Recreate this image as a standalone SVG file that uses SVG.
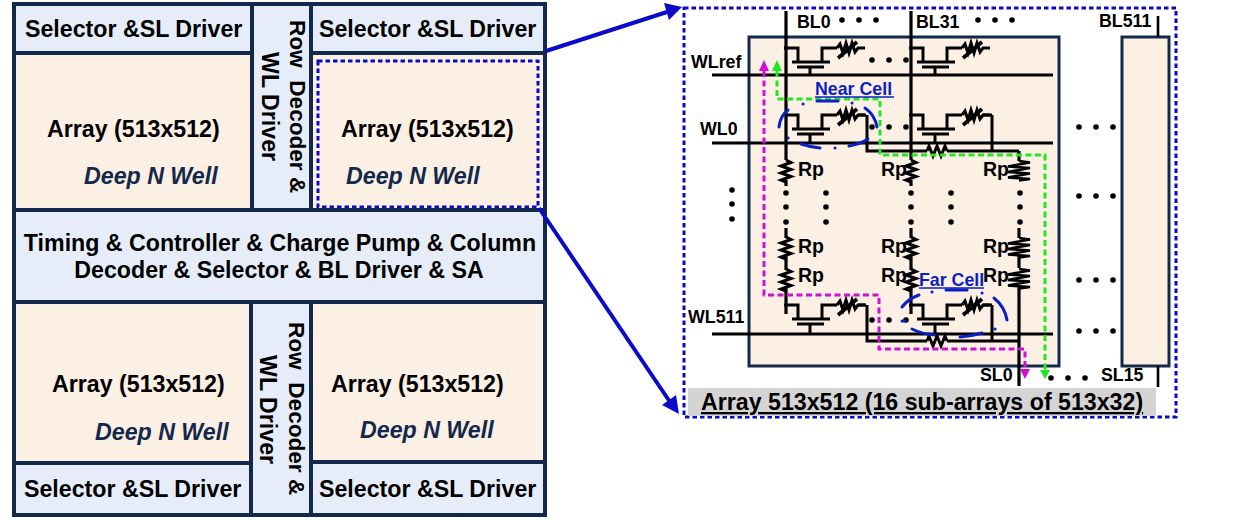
<svg xmlns="http://www.w3.org/2000/svg" xmlns:xlink="http://www.w3.org/1999/xlink" width="1248" height="523" viewBox="0 0 1248 523">
<style>
text{font-family:"Liberation Sans",Arial,sans-serif;font-weight:bold;fill:#000}
.b{fill:#e6edf8;stroke:#13294b;stroke-width:4}
.a{fill:#fcefe4;stroke:#13294b;stroke-width:4}
.m{font-size:23.200px}
.o{font-size:22.600px}
.d{font-size:23.200px;font-style:italic;fill:#13294b}
.l{font-size:17.800px}
.r{font-size:19.500px}
.w{fill:none;stroke:#000;stroke-width:3;stroke-linejoin:miter}
.t{fill:none;stroke:#000;stroke-width:2.600}
.s{fill:none;stroke:#000;stroke-width:3.200}
.e{fill:none;stroke:#0a1fc4;stroke-width:3;stroke-linecap:round}
.g{fill:none;stroke:#1fe81f;stroke-width:3;stroke-dasharray:6 3.500}
.p{fill:none;stroke:#d010d0;stroke-width:3;stroke-dasharray:6 3.500}
.v{fill:none;stroke:#0a0ac8;stroke-width:3;stroke-dasharray:4.500 3}
.n{fill:#0a1fc4;font-size:17.800px}
.u{fill:none;stroke:#0a1fc4;stroke-width:1.600}
</style>
<defs>
<!-- one memory cell: access transistor plus variable resistor, origin at the bit line / drain -->
<g id="cell">
<path class="w" d="M-2 0H12V14M36 14V0H51"/>
<path class="w" d="M6 14H44M11 19H38M24 19V28"/>
<path class="w" d="M51 0l3 -4 3 9 3 -10 3 10 3 -10 3 9 3-4h7"/>
<path class="w" style="stroke-width:3.600" d="M52 10L71 -6"/>
</g>
<!-- series resistance of a line, drawn vertically -->
<path id="rp" class="w" d="M0 -10l5 2.500-10 3.500 10 3.500-10 3.500 10 3.500-10 3.500 5 2"/>
<path id="rpw" class="t" d="M0 -9l11 1.500-22 4 22 1.500-22 4 22 1.500-22 4 22 1.500-11 1.500"/>
<path id="rh" class="w" d="M-10 0l2 -5 4 10 4-10 4 10 4-10 2 5"/>
<circle id="dot" r="2.800" fill="#000"/>
<g id="dots3"><use xlink:href="#dot"/><use xlink:href="#dot" x="17"/><use xlink:href="#dot" x="34"/></g>
<g id="vdots"><use xlink:href="#dot"/><use xlink:href="#dot" y="14"/><use xlink:href="#dot" y="29"/></g>
</defs>

<g id="selector-tl"><rect class="b" x="14" y="4" width="238" height="49"/><text class="m" x="25" y="37">Selector &amp;SL Driver</text></g>
<g id="selector-tr"><rect class="b" x="311" y="4" width="234" height="49"/><text class="m" x="319" y="37">Selector &amp;SL Driver</text></g>
<g id="array-tl"><rect class="a" x="14" y="53" width="238" height="157"/><text class="m" x="47" y="137">Array (513x512)</text><text class="d" x="84" y="184">Deep N Well</text></g>
<g id="array-tr"><rect class="a" x="311" y="53" width="234" height="157"/><rect class="v" x="318" y="61" width="220" height="146"/><text class="m" x="341" y="137">Array (513x512)</text><text class="d" x="346" y="184">Deep N Well</text></g>
<g id="row-decoder-top"><rect class="b" x="252" y="4" width="59" height="206"/><text class="o" transform="translate(290 20) rotate(90)" xml:space="preserve">Row  Decoder &amp;</text><text class="m" transform="translate(262 52) rotate(90)">WL Driver</text></g>
<g id="controller"><rect class="b" x="14" y="210" width="531" height="92"/><text class="m" x="280" y="251" text-anchor="middle">Timing &amp; Controller &amp; Charge Pump &amp; Column</text><text class="m" x="279" y="278" text-anchor="middle">Decoder &amp; Selector &amp; BL Driver &amp; SA</text></g>
<g id="array-bl"><rect class="a" x="14" y="302" width="237" height="161"/><text class="m" x="52" y="392">Array (513x512)</text><text class="d" x="95" y="440">Deep N Well</text></g>
<g id="array-br"><rect class="a" x="311" y="302" width="234" height="160"/><text class="m" x="331" y="392">Array (513x512)</text><text class="d" x="360" y="438">Deep N Well</text></g>
<g id="selector-bl"><rect class="b" x="14" y="463" width="237" height="52"/><text class="m" x="24" y="497">Selector &amp;SL Driver</text></g>
<g id="selector-br"><rect class="b" x="311" y="462" width="234" height="53"/><text class="m" x="319" y="497">Selector &amp;SL Driver</text></g>
<g id="row-decoder-bottom"><rect class="b" x="251" y="302" width="60" height="213"/><text class="o" transform="translate(289 322) rotate(90)" xml:space="preserve">Row  Decoder &amp;</text><text class="m" transform="translate(260 355) rotate(90)">WL Driver</text></g>

<g id="connectors" fill="none" stroke="#0a0ac8" stroke-width="4">
<path d="M546 51L667 12"/><path fill="#0a0ac8" stroke="none" d="M682 7L664 3L669 20Z"/>
<path d="M539 208L670 402"/><path fill="#0a0ac8" stroke="none" d="M679 414L662 405L676 395Z"/>
</g>

<g id="detail">
<rect class="v" x="684" y="8" width="492" height="409"/>
<rect x="688" y="388" width="468" height="28" fill="#d4d4d4"/>
<text x="701" y="410" font-size="23.200" text-decoration="underline">Array 513x512 (16 sub-arrays of 513x32)</text>
<rect x="749" y="37" width="310" height="329" fill="#fcefe4" stroke="#13294b" stroke-width="3"/>
<rect x="1122" y="37" width="47" height="329" fill="#fcefe4" stroke="#13294b" stroke-width="3"/>
</g>

<g id="lines">
<path class="t" d="M1158 16V37M1158 366V387"/>
<path class="w" d="M712 75H1053M712 143H1053M712 334H1053"/>
<path class="s" d="M786 11V160M786 180V186M911 11V160M911 180V186M786 228V238M786 256V270M786 288V314M911 228V238M911 256V270M911 288V314M1019 151V161M1019 228V238M1019 256V268M1019 285V386"/>
<path class="w" d="M867 115V151H927M947 151H1019M992 115V151M867 305V341H927M947 341H1019M992 305V341M866 115H858"/>
<path class="w" d="M866 305H858M983 115H992M983 305H992"/>
<use xlink:href="#rp" x="786" y="170"/><use xlink:href="#rp" x="911" y="170"/>
<use xlink:href="#rp" x="786" y="247"/><use xlink:href="#rp" x="911" y="247"/>
<use xlink:href="#rp" x="786" y="279"/><use xlink:href="#rp" x="911" y="279"/>
<use xlink:href="#rpw" x="1019" y="170"/><use xlink:href="#rpw" x="1019" y="247"/><use xlink:href="#rpw" x="1019" y="278"/>
<use xlink:href="#rh" x="937" y="151"/><use xlink:href="#rh" x="937" y="341"/>
</g>

<g id="cells">
<use xlink:href="#cell" x="786" y="48"/><use xlink:href="#cell" x="911" y="48"/>
<use xlink:href="#cell" x="786" y="115"/><use xlink:href="#cell" x="911" y="115"/>
<use xlink:href="#cell" x="786" y="305"/><use xlink:href="#cell" x="911" y="305"/>
</g>

<g id="dot-rows">
<use xlink:href="#dots3" x="842" y="20"/><use xlink:href="#dots3" x="978" y="20"/>
<use xlink:href="#dots3" x="872" y="60"/><use xlink:href="#dots3" x="872" y="127"/><use xlink:href="#dots3" x="872" y="320"/>
<use xlink:href="#dots3" x="1079" y="127"/><use xlink:href="#dots3" x="1079" y="196"/><use xlink:href="#dots3" x="1079" y="280"/><use xlink:href="#dots3" x="1079" y="331"/>
<use xlink:href="#dots3" x="1051" y="378"/>
<use xlink:href="#vdots" x="732" y="190"/>
<use xlink:href="#vdots" x="786" y="193"/><use xlink:href="#vdots" x="826" y="193"/><use xlink:href="#vdots" x="911" y="193"/><use xlink:href="#vdots" x="951" y="193"/><use xlink:href="#vdots" x="1020" y="193"/>
</g>

<g id="paths">
<path class="g" d="M777 71V99H880V155H1045V371"/>
<path fill="#1fe81f" d="M777 60l-5 11h10ZM1045 379l-5-9h10Z"/>
<path class="p" d="M764 71V295H879V349H1025V371"/>
<path fill="#d010d0" d="M764 60l-5 11h10ZM1025 379l-5-10h10Z"/>
</g>

<g id="near-cell">
<path class="e" d="M779 127Q780 116 788 110M801 144Q810 147 820 148M849 146Q860 144 868 139M865 108Q875 115 877 127M817 101H838"/>
<path class="e" d="M803 104h.1M852 103h.1M788 138h.1M835 148h.1"/>
<text class="n" x="815" y="95">Near Cell</text><path class="u" d="M815 97H894"/>
</g>
<g id="far-cell">
<path class="e" d="M902 307Q908 299 919 295M912 329Q922 334 935 335M960 337Q972 336 982 333M994 298Q1005 307 1007 320M946 290H967"/>
<path class="e" d="M932 292h.1M982 293h.1M995 329h.1M902 321h3"/>
<text class="n" x="919" y="286">Far Cell</text><path class="u" d="M919 288H984"/>
</g>

<g id="labels">
<text class="l" x="797" y="28">BL0</text><text class="l" x="916" y="28">BL31</text><text class="l" x="1099" y="27">BL511</text>
<text class="l" x="691" y="68">WLref</text><text class="l" x="700" y="135">WL0</text><text class="l" x="688" y="323">WL511</text>
<text class="l" x="980" y="381">SL0</text><text class="l" x="1101" y="381">SL15</text>
<text class="r" x="798" y="176">Rp</text><text class="r" x="881" y="176">Rp</text><text class="r" x="983" y="176">Rp</text>
<text class="r" x="798" y="253">Rp</text><text class="r" x="881" y="253">Rp</text><text class="r" x="983" y="253">Rp</text>
<text class="r" x="798" y="282">Rp</text><text class="r" x="881" y="282">Rp</text><text class="r" x="983" y="282">Rp</text>
</g>
</svg>
